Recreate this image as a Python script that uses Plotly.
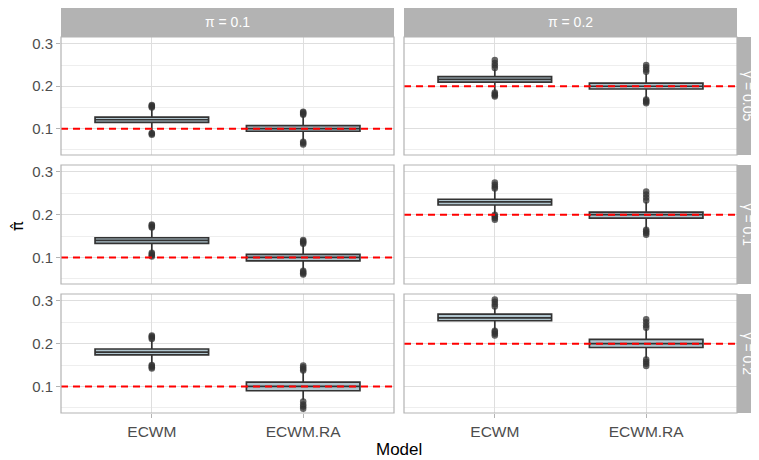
import plotly.graph_objects as go

# ---------------- data ----------------
models = ["ECWM", "ECWM.RA"]
pi_values = [0.1, 0.2]          # columns (true pi, red dashed line)
gamma_values = [0.05, 0.1, 0.2] # rows

# panel order: (gamma row, pi col) -> [ECWM, ECWM.RA]
q1 = {
    (0, 0): [0.1150, 0.0940], (0, 1): [0.2095, 0.1935],
    (1, 0): [0.1330, 0.0920], (1, 1): [0.2225, 0.1920],
    (2, 0): [0.1740, 0.0900], (2, 1): [0.2535, 0.1910],
}
median = {
    (0, 0): [0.1210, 0.1000], (0, 1): [0.2160, 0.2000],
    (1, 0): [0.1400, 0.1000], (1, 1): [0.2300, 0.2000],
    (2, 0): [0.1800, 0.1000], (2, 1): [0.2600, 0.2000],
}
q3 = {
    (0, 0): [0.1270, 0.1070], (0, 1): [0.2225, 0.2075],
    (1, 0): [0.1460, 0.1070], (1, 1): [0.2360, 0.2060],
    (2, 0): [0.1875, 0.1100], (2, 1): [0.2690, 0.2100],
}
lower_whisker = {
    (0, 0): [0.0930, 0.0730], (0, 1): [0.1880, 0.1720],
    (1, 0): [0.1140, 0.0720], (1, 1): [0.2030, 0.1680],
    (2, 0): [0.1540, 0.0690], (2, 1): [0.2330, 0.1660],
}
upper_whisker = {
    (0, 0): [0.1470, 0.1300], (0, 1): [0.2400, 0.2300],
    (1, 0): [0.1670, 0.1290], (1, 1): [0.2580, 0.2300],
    (2, 0): [0.2080, 0.1340], (2, 1): [0.2840, 0.2340],
}
outliers_high = {
    (0, 0): [[0.150, 0.152, 0.154, 0.156], [0.133, 0.135, 0.138, 0.140]],
    (0, 1): [[0.243, 0.249, 0.255, 0.262], [0.234, 0.239, 0.245, 0.250]],
    (1, 0): [[0.170, 0.172, 0.175, 0.177], [0.132, 0.135, 0.138, 0.141]],
    (1, 1): [[0.261, 0.265, 0.270, 0.275], [0.233, 0.240, 0.247, 0.254]],
    (2, 0): [[0.211, 0.214, 0.217, 0.219], [0.137, 0.141, 0.145, 0.149]],
    (2, 1): [[0.287, 0.292, 0.298, 0.303], [0.237, 0.243, 0.250, 0.257]],
}
outliers_low = {
    (0, 0): [[0.086, 0.088, 0.090], [0.063, 0.066, 0.069]],
    (0, 1): [[0.176, 0.179, 0.182, 0.185], [0.160, 0.163, 0.166, 0.169]],
    (1, 0): [[0.102, 0.105, 0.108, 0.111], [0.060, 0.063, 0.066, 0.069]],
    (1, 1): [[0.188, 0.192, 0.196, 0.200], [0.153, 0.157, 0.161, 0.165]],
    (2, 0): [[0.142, 0.145, 0.148, 0.150], [0.048, 0.053, 0.058, 0.065]],
    (2, 1): [[0.219, 0.223, 0.227, 0.230], [0.148, 0.153, 0.158, 0.163]],
}
y_ticks = [0.1, 0.2, 0.3]
y_minor = [0.05, 0.15, 0.25]

# ---------------- layout geometry ----------------
# the page body has an 8px default margin; geometry below is in screen pixels
OFF = 8
W, H = 759 - OFF, 460 - OFF
col_px = [(61, 394), (404, 737)]
row_px = [(37, 155), (165, 284), (294, 413)]
strip_top = (7, 37)
strip_right = (737, 759)

BORDER = "#b3b3b3"
GRID = "#dedede"
GRID_MINOR = "#eeeeee"
FONT = "Liberation Sans, Arial, sans-serif"

fig = go.Figure()
layout = dict(
    width=W, height=H,
    margin=dict(l=0, r=0, t=0, b=0, autoexpand=False),
    paper_bgcolor="white", plot_bgcolor="white",
    showlegend=False,
    font=dict(family=FONT),
)
shapes = []
annotations = []


def px_x(p):
    return (p - OFF) / W


def px_y(p):
    return 1 - (p - OFF) / H


for r in range(3):
    for c in range(2):
        k = r * 2 + c + 1
        xa = "x" if k == 1 else f"x{k}"
        ya = "y" if k == 1 else f"y{k}"
        key = (r, c)
        for i, m in enumerate(models):
            fig.add_trace(go.Box(
                x=[m], q1=[q1[key][i]], median=[median[key][i]], q3=[q3[key][i]],
                lowerfence=[lower_whisker[key][i]], upperfence=[upper_whisker[key][i]],
                width=0.75, whiskerwidth=0, boxpoints=False,
                fillcolor="#b0c5ce", line=dict(color="#333333", width=1.7),
                xaxis=xa, yaxis=ya, hoverinfo="skip",
            ))
            pts = outliers_high[key][i] + outliers_low[key][i]
            fig.add_trace(go.Scatter(
                x=[m] * len(pts), y=pts, mode="markers",
                marker=dict(color="#333333", size=6.5, opacity=0.75, line=dict(width=0)),
                xaxis=xa, yaxis=ya, hoverinfo="skip",
            ))
        x0, x1 = col_px[c]
        yt, yb = row_px[r]
        layout["xaxis" if k == 1 else f"xaxis{k}"] = dict(
            domain=[px_x(x0), px_x(x1)], anchor=ya,
            type="category", categoryorder="array", categoryarray=models,
            range=[-0.6, 1.6], automargin=False,
            showgrid=True, gridcolor=GRID, gridwidth=1,
            zeroline=False, showline=False,
            ticks="outside" if r == 2 else "", ticklen=4, tickcolor=BORDER,
            showticklabels=(r == 2),
            tickfont=dict(size=15.5, color="#4d4d4d", family=FONT),
        )
        layout["yaxis" if k == 1 else f"yaxis{k}"] = dict(
            domain=[px_y(yb), px_y(yt)], anchor=xa,
            range=[0.038, 0.316], automargin=False,
            tickvals=y_ticks, ticktext=[f"{v:.1f}" for v in y_ticks],
            showgrid=True, gridcolor=GRID, gridwidth=1,
            minor=dict(tickvals=y_minor, showgrid=True, gridcolor=GRID_MINOR, gridwidth=0.8, ticks=""),
            zeroline=False, showline=False,
            ticks="outside" if c == 0 else "", ticklen=4, tickcolor=BORDER,
            showticklabels=(c == 0),
            tickfont=dict(size=15, color="#4d4d4d", family=FONT),
        )
        shapes.append(dict(
            type="line", xref=f"{xa} domain", yref=ya, x0=0, x1=1,
            y0=pi_values[c], y1=pi_values[c],
            line=dict(color="#ff0000", width=2, dash="7px,5px"), layer="above",
        ))
        shapes.append(dict(
            type="rect", xref=f"{xa} domain", yref=f"{ya} domain", x0=0, x1=1, y0=0, y1=1,
            line=dict(color=BORDER, width=1.2), fillcolor="rgba(0,0,0,0)", layer="above",
        ))

# top strips
for c in range(2):
    x0, x1 = col_px[c]
    shapes.append(dict(
        type="rect", xref="paper", yref="paper",
        x0=px_x(x0), x1=px_x(x1), y0=px_y(strip_top[1]), y1=px_y(strip_top[0]),
        fillcolor=BORDER, line=dict(width=0), layer="below",
    ))
    annotations.append(dict(
        text=f"π = {pi_values[c]}", xref="paper", yref="paper",
        x=px_x((x0 + x1) / 2), y=px_y(sum(strip_top) / 2),
        xanchor="center", yanchor="middle",
        showarrow=False, font=dict(size=14, color="white", family=FONT),
    ))
# right strips
for r in range(3):
    yt, yb = row_px[r]
    shapes.append(dict(
        type="rect", xref="paper", yref="paper",
        x0=px_x(strip_right[0]), x1=px_x(strip_right[1]), y0=px_y(yb), y1=px_y(yt),
        fillcolor=BORDER, line=dict(width=0), layer="below",
    ))
    annotations.append(dict(
        text=f"γ = {gamma_values[r]}", xref="paper", yref="paper",
        x=px_x(748), y=px_y((yt + yb) / 2),
        xanchor="center", yanchor="middle",
        showarrow=False, textangle=90, font=dict(size=14, color="white", family=FONT),
    ))

# axis titles
annotations.append(dict(
    text="Model", xref="paper", yref="paper", x=px_x(399), y=px_y(449),
    xanchor="center", yanchor="middle",
    showarrow=False, font=dict(size=17, color="black", family=FONT),
))
annotations.append(dict(
    text="π\u0302", xref="paper", yref="paper", x=px_x(17), y=px_y(226),
    xanchor="center", yanchor="middle",
    showarrow=False, textangle=-90, font=dict(size=16, color="black", family="DejaVu Sans"),
))

layout["shapes"] = shapes
layout["annotations"] = annotations
fig.update_layout(**layout)
fig.write_html("out.html")
